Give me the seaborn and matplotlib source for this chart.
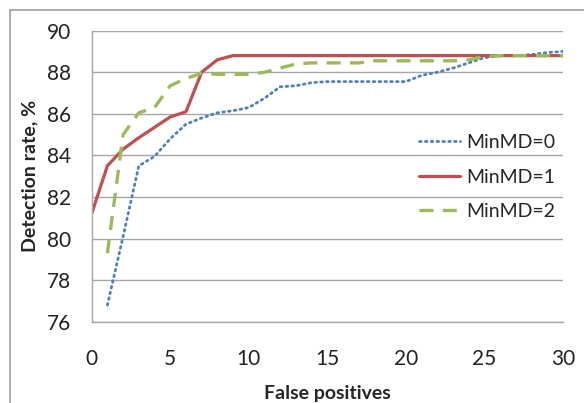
import matplotlib
matplotlib.use("Agg")
import matplotlib.pyplot as plt
import seaborn as sns
import pandas as pd
from matplotlib.lines import Line2D

# data
fp_0 = list(range(1, 31))
rate_0 = [76.8, 80.1, 83.5, 83.95, 84.8, 85.5, 85.8, 86.05, 86.15, 86.3,
          86.75, 87.3, 87.35, 87.5, 87.55, 87.55, 87.55, 87.55, 87.55, 87.55,
          87.85, 88.0, 88.2, 88.45, 88.7, 88.8, 88.8, 88.85, 88.95, 89.0]

fp_1 = list(range(0, 31))
rate_1 = [81.2, 83.5, 84.3, 84.85, 85.35, 85.85, 86.1, 88.0, 88.6, 88.8,
          88.8, 88.8, 88.8, 88.8, 88.8, 88.8, 88.8, 88.8, 88.8, 88.8,
          88.8, 88.8, 88.8, 88.8, 88.8, 88.8, 88.8, 88.8, 88.8, 88.8, 88.8]

fp_2 = list(range(1, 31))
rate_2 = [79.3, 85.0, 86.05, 86.3, 87.35, 87.7, 87.95, 87.9, 87.9, 87.9,
          88.0, 88.2, 88.4, 88.45, 88.45, 88.45, 88.45, 88.55, 88.55, 88.55,
          88.55, 88.55, 88.55, 88.6, 88.75, 88.8, 88.8, 88.8, 88.8, 88.8]

labels = ["MinMD=0", "MinMD=1", "MinMD=2"]
colors = ["#4F81BD", "#C0504D", "#9BBB59"]

sns.set_style("white")
plt.rcParams['font.family'] = ['Lato', 'DejaVu Sans']

fig = plt.figure(figsize=(5.84, 4.03), dpi=100)
ax = fig.add_axes([0.157, 0.2017, 0.807, 0.7222])

# outer chart border (only top/left visible in the reference)
fig.add_artist(Line2D([10 / 584, 10 / 584], [0, 1 - 10 / 403], color="#a0a0a0", lw=1.2,
                      transform=fig.transFigure))
fig.add_artist(Line2D([10 / 584, 1], [1 - 10 / 403, 1 - 10 / 403], color="#a0a0a0", lw=1.2,
                      transform=fig.transFigure))

df0 = pd.DataFrame({"fp": fp_0, "rate": rate_0})
df1 = pd.DataFrame({"fp": fp_1, "rate": rate_1})
df2 = pd.DataFrame({"fp": fp_2, "rate": rate_2})

sns.lineplot(data=df0, x="fp", y="rate", ax=ax, color=colors[0], lw=2.0,
             linestyle=(0, (0.6, 1.5)), dash_capstyle="round", label=labels[0])
sns.lineplot(data=df1, x="fp", y="rate", ax=ax, color=colors[1], lw=2.3,
             label=labels[1])
sns.lineplot(data=df2, x="fp", y="rate", ax=ax, color=colors[2], lw=2.4,
             linestyle=(0, (4.2, 2.8)), label=labels[2])

ax.set_xlim(0, 30)
ax.set_ylim(76, 90)
ax.set_xticks(range(0, 31, 5))
ax.set_yticks(range(76, 91, 2))
ax.grid(axis="y", color="#a6a6a6", lw=1.0)
ax.set_axisbelow(True)
for side in ["top", "right"]:
    ax.spines[side].set_visible(False)
for side in ["left", "bottom"]:
    ax.spines[side].set_color("#a6a6a6")
    ax.spines[side].set_linewidth(1.0)
ax.tick_params(axis="both", length=0, labelsize=15, colors="#222222")
ax.tick_params(axis="y", pad=15)
ax.tick_params(axis="x", pad=20)

ax.set_xlabel("False positives", fontsize=14, fontweight="bold", labelpad=11)
ax.set_ylabel("Detection rate, %", fontsize=14, fontweight="bold", labelpad=6)

ax.legend(loc="center right", bbox_to_anchor=(1.0, 0.497), borderaxespad=0,
          frameon=False, fontsize=14, handlelength=2.1, handletextpad=0.3,
          labelspacing=0.9)

fig.savefig("out.png", dpi=100)
